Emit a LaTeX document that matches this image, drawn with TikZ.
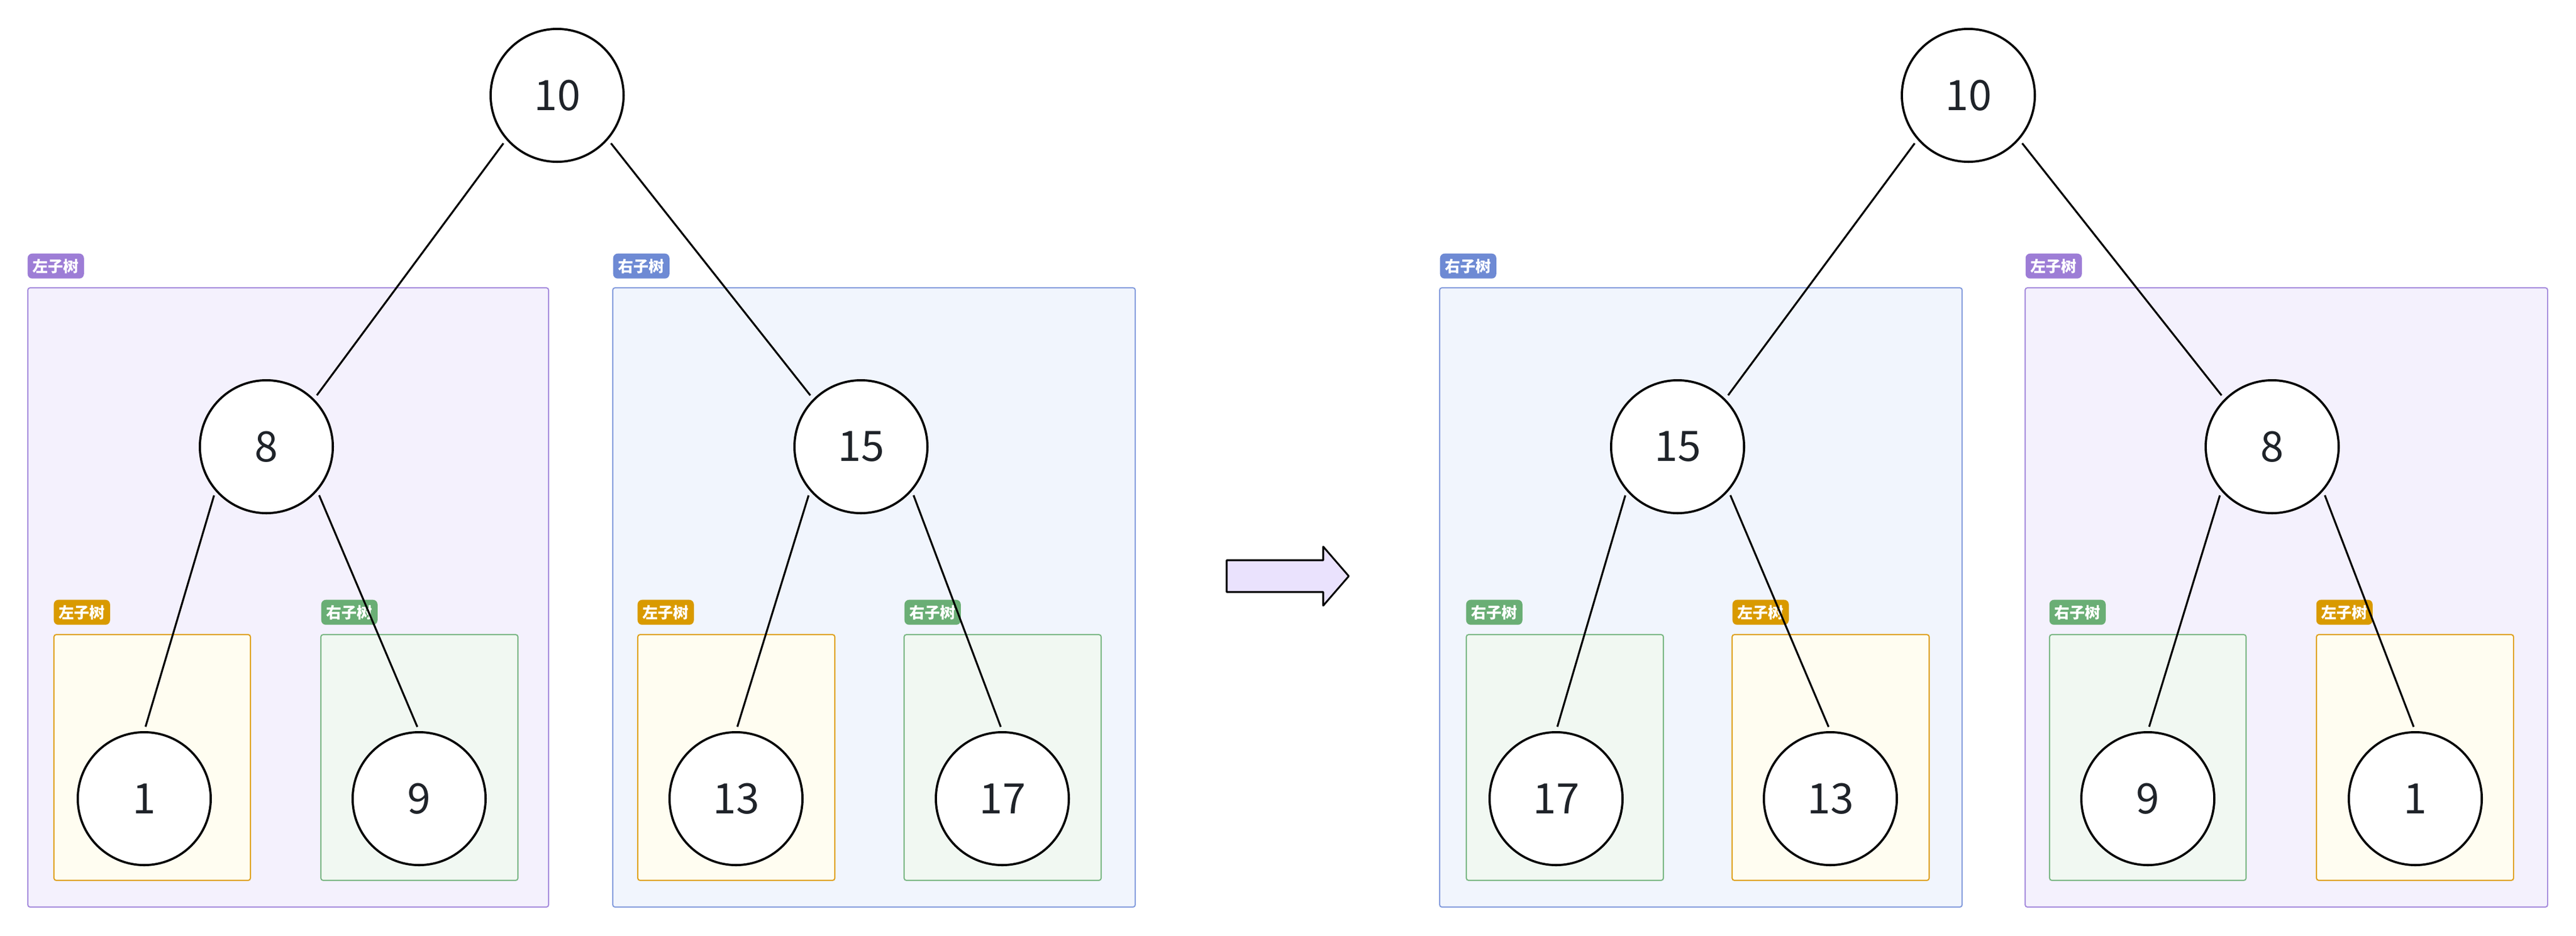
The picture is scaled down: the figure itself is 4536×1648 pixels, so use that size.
\documentclass[tikz,border=0pt]{standalone}
\usepackage{fontspec}
\setmainfont{Noto Sans CJK SC}
\usepackage{tikz}
\usetikzlibrary{arrows.meta}

\definecolor{numtext}{HTML}{1F2329}
\definecolor{purpleline}{HTML}{A68CDD}
\definecolor{purpletag}{HTML}{9D7DD6}
\definecolor{purplefill}{HTML}{F4F1FD}
\definecolor{blueline}{HTML}{859DDD}
\definecolor{bluetag}{HTML}{6E8AD4}
\definecolor{bluefill}{HTML}{F1F5FD}
\definecolor{yellowline}{HTML}{DFA11C}
\definecolor{yellowtag}{HTML}{D99A00}
\definecolor{yellowfill}{HTML}{FFFDF1}
\definecolor{greenline}{HTML}{7AB784}
\definecolor{greentag}{HTML}{6AAE75}
\definecolor{greenfill}{HTML}{F1F8F2}
\definecolor{arrowfill}{HTML}{EAE2FD}

\begin{document}
\begin{tikzpicture}[x=0.01cm, y=-0.01cm,
      every circle node/.append style={draw=black, fill=white, line width=1.1pt,
        minimum size=2.34cm, inner sep=0pt, text=numtext, font=\fontsize{21}{21}\selectfont},
      edge/.style={draw=black, line width=0.95pt, shorten <=0.08cm, shorten >=0.08cm},
      grp/.style={line width=0.6pt, rounded corners=0.04cm},
      tag/.style={anchor=north west, rounded corners=0.08cm, minimum width=0.99cm,
        minimum height=0.44cm, inner sep=0pt, text=white,
        font=\fontsize{7.7}{7.7}\selectfont\bfseries}]
    \useasboundingbox (0,0) rectangle (4536,1648);

    \draw[grp, draw=purpleline, fill=purplefill] (49,507) rectangle (966,1598);
    \node (tagL8) [tag, fill=purpletag] at (48,446) {左子树};
    \draw[grp, draw=yellowline, fill=yellowfill] (95,1118) rectangle (441,1551);
    \node (tagL1) [tag, fill=yellowtag] at (94,1056) {左子树};
    \draw[grp, draw=greenline, fill=greenfill] (565,1118) rectangle (912,1551);
    \node (tagL9) [tag, fill=greentag] at (565,1056) {右子树};

    \draw[grp, draw=blueline, fill=bluefill] (1079,507) rectangle (1999,1598);
    \node (tagL15) [tag, fill=bluetag] at (1079,446) {右子树};
    \draw[grp, draw=yellowline, fill=yellowfill] (1123,1118) rectangle (1470,1551);
    \node (tagL13) [tag, fill=yellowtag] at (1122,1056) {左子树};
    \draw[grp, draw=greenline, fill=greenfill] (1592,1118) rectangle (1939,1551);
    \node (tagL17) [tag, fill=greentag] at (1592,1056) {右子树};

    \draw[grp, draw=blueline, fill=bluefill] (2535,507) rectangle (3455,1598);
    \node (tagR15) [tag, fill=bluetag] at (2535,446) {右子树};
    \draw[grp, draw=greenline, fill=greenfill] (2582,1118) rectangle (2929,1551);
    \node (tagR17) [tag, fill=greentag] at (2581,1056) {右子树};
    \draw[grp, draw=yellowline, fill=yellowfill] (3050,1118) rectangle (3397,1551);
    \node (tagR13) [tag, fill=yellowtag] at (3050,1056) {左子树};

    \draw[grp, draw=purpleline, fill=purplefill] (3566,507) rectangle (4486,1598);
    \node (tagR8) [tag, fill=purpletag] at (3566,446) {左子树};
    \draw[grp, draw=greenline, fill=greenfill] (3609,1118) rectangle (3955,1551);
    \node (tagR9) [tag, fill=greentag] at (3608,1056) {右子树};
    \draw[grp, draw=yellowline, fill=yellowfill] (4079,1118) rectangle (4426,1551);
    \node (tagR1) [tag, fill=yellowtag] at (4078,1056) {左子树};

    \node (L10) [circle] at (981,168) {10};
    \node (L8) [circle] at (469,787) {8};
    \node (L15) [circle] at (1516,787) {15};
    \node (L1) [circle] at (254,1407) {1};
    \node (L9) [circle] at (738,1407) {9};
    \node (L13) [circle] at (1296,1407) {13};
    \node (L17) [circle] at (1765,1407) {17};

    \node (R10) [circle] at (3466,168) {10};
    \node (R15) [circle] at (2954,787) {15};
    \node (R8) [circle] at (4001,787) {8};
    \node (R17) [circle] at (2740,1407) {17};
    \node (R13) [circle] at (3223,1407) {13};
    \node (R9) [circle] at (3782,1407) {9};
    \node (R1) [circle] at (4253,1407) {1};

    \draw[edge] (L10.221) -- (L8.45);
    \draw[edge] (L10.-41) -- (L15.135);
    \draw[edge] (L8.221) -- (L1.north);
    \draw[edge] (L8.-41) -- (L9.north);
    \draw[edge] (L15.221) -- (L13.north);
    \draw[edge] (L15.-41) -- (L17.north);

    \draw[edge] (R10.221) -- (R15.45);
    \draw[edge] (R10.-41) -- (R8.135);
    \draw[edge] (R15.221) -- (R17.north);
    \draw[edge] (R15.-41) -- (R13.north);
    \draw[edge] (R8.221) -- (R9.north);
    \draw[edge] (R8.-41) -- (R1.north);

    \draw[line width=0.9pt, line join=round, fill=arrowfill]
      (2160,987) -- (2330,987) -- (2330,963) -- (2375,1015) -- (2330,1067)
      -- (2330,1043) -- (2160,1043) -- cycle;
  \end{tikzpicture}
\end{document}
